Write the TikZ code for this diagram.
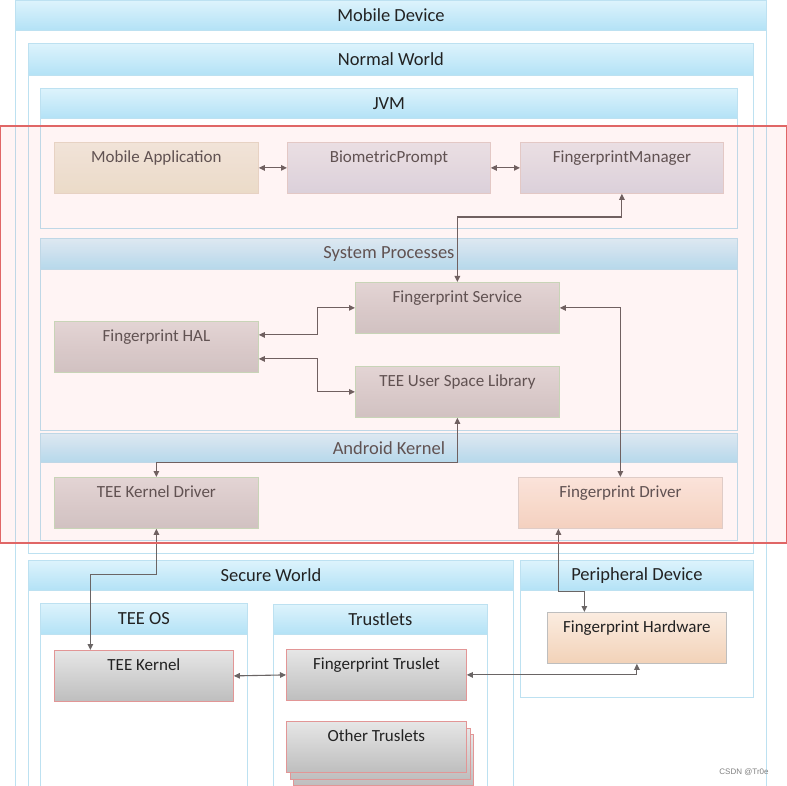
\documentclass[tikz,border=0pt]{standalone}
\usepackage{fontspec}
\setmainfont{Carlito}
\newfontfamily\wmfont{Liberation Sans}
\usetikzlibrary{arrows.meta}

\definecolor{hdrtop}{HTML}{DDF3FC}
\definecolor{hdrbot}{HTML}{B3E2F6}
\definecolor{frame}{HTML}{BDE1F1}
\definecolor{wire}{HTML}{6A6565}
\definecolor{nwtext}{HTML}{5A5656}
\definecolor{swtext}{HTML}{222222}
\definecolor{overlay}{HTML}{E06666}
\definecolor{appline}{HTML}{E6DCCC}
\definecolor{apptop}{HTML}{F1EEE2}
\definecolor{appbot}{HTML}{EBE5D2}
\definecolor{apiline}{HTML}{E2D2CE}
\definecolor{apitop}{HTML}{EAE9EE}
\definecolor{apibot}{HTML}{DADAE4}
\definecolor{sysline}{HTML}{C6DEC0}
\definecolor{systop}{HTML}{E2DEDE}
\definecolor{sysbot}{HTML}{D0CACA}
\definecolor{drvline}{HTML}{DED6D0}
\definecolor{drvtop}{HTML}{FBEEE4}
\definecolor{drvbot}{HTML}{F4DAC8}
\definecolor{tzline}{HTML}{E29696}
\definecolor{tztop}{HTML}{E6E6E6}
\definecolor{tzbot}{HTML}{BEBEBE}
\definecolor{hwline}{HTML}{BEBEBE}
\definecolor{hwtop}{HTML}{FBECE0}
\definecolor{hwbot}{HTML}{F2D2B8}

\tikzset{
	panel/.style={draw=frame, line width=1.2pt, fill=white, anchor=north west, inner sep=0pt},
	hdr/.style={draw=frame, line width=0.8pt, top color=hdrtop, bottom color=hdrbot,
		anchor=north west, inner sep=0pt, minimum height=30pt, text=swtext,
		font=\fontsize{18.5}{19}\selectfont},
	box/.style={anchor=north west, inner sep=0pt, minimum width=204pt, minimum height=51pt,
		line width=0.8pt, text height=20pt, text depth=31pt, text=nwtext,
		font=\fontsize{17}{17}\selectfont},
	appbox/.style={box, draw=appline, top color=apptop, bottom color=appbot},
	apibox/.style={box, draw=apiline, top color=apitop, bottom color=apibot},
	sysbox/.style={box, draw=sysline, top color=systop, bottom color=sysbot},
	drvbox/.style={box, draw=drvline, top color=drvtop, bottom color=drvbot},
	tzbox/.style={box, minimum width=180pt, minimum height=50pt, text=swtext,
		draw=tzline, top color=tztop, bottom color=tzbot},
	hwbox/.style={tzbox, draw=hwline, top color=hwtop, bottom color=hwbot},
	conn/.style={draw=wire, line width=1.1pt, {Triangle[length=6pt,width=5.5pt]}-{Triangle[length=6pt,width=5.5pt]}}
}

\begin{document}
\begin{tikzpicture}[x=1pt, y=-1pt]
	\clip (0,0) rectangle (787,786);
	\fill [white] (0,0) rectangle (787,786);
	% containers
	\node [panel, minimum width=751pt, minimum height=820pt] (mobile) at (15,0) {};
	\node [hdr, minimum width=751pt] (mobilehdr) at (15,0) {Mobile Device};
	\node [panel, minimum width=725pt, minimum height=510pt] (normal) at (28,43) {};
	\node [hdr, minimum width=725pt, minimum height=32pt] (normalhdr) at (28,43) {Normal World};
	\node [panel, minimum width=697pt, minimum height=140pt] (jvm) at (40,88) {};
	\node [hdr, minimum width=697pt] (jvmhdr) at (40,88) {JVM};
	\node [panel, minimum width=697pt, minimum height=192pt] (sysproc) at (40,238) {};
	\node [hdr, minimum width=697pt, minimum height=31pt, text=nwtext] (sysprochdr) at (40,238) {System Processes};
	\node [panel, minimum width=697pt, minimum height=107pt] (kernel) at (40,433) {};
	\node [hdr, minimum width=697pt, minimum height=29pt, text=nwtext] (kernelhdr) at (40,433) {Android Kernel};
	\node [panel, minimum width=485pt, minimum height=260pt] (secure) at (28,560) {};
	\node [hdr, minimum width=485pt] (securehdr) at (28,560) {Secure World};
	\node [panel, minimum width=233pt, minimum height=137pt] (periph) at (520,560) {};
	\node [hdr, minimum width=233pt] (periphhdr) at (520,560) {Peripheral Device};
	\node [panel, minimum width=207pt, minimum height=220pt] (teeos) at (40,603) {};
	\node [hdr, minimum width=207pt, minimum height=31pt] (teeoshdr) at (40,603) {TEE OS};
	\node [panel, minimum width=214pt, minimum height=220pt] (trustlets) at (273,604) {};
	\node [hdr, minimum width=214pt] (trustletshdr) at (273,604) {Trustlets};

	% normal world components
	\node [appbox] (mobapp) at (54,142) {Mobile Application};
	\node [apibox, minimum width=203pt] (bioprompt) at (287,142) {BiometricPrompt};
	\node [apibox, minimum width=203pt] (fpm) at (520,142) {FingerprintManager};
	\node [sysbox] (fpservice) at (355,282) {Fingerprint Service};
	\node [sysbox] (hal) at (54,321) {Fingerprint HAL};
	\node [sysbox] (usrlib) at (355,366) {TEE User Space Library};
	\node [sysbox, minimum height=50pt] (kdriver) at (54,477) {TEE Kernel Driver};
	\node [drvbox, minimum height=50pt] (fpdriver) at (518,477) {Fingerprint Driver};

	% secure world and hardware
	\node [tzbox, minimum width=179pt] (teekernel) at (54,650) {TEE Kernel};
	\node [tzbox] (fptruslet) at (286,649) {Fingerprint Truslet};
	\node [tzbox] (othersc) at (293,734) {};
	\node [tzbox] (othersb) at (290,728) {};
	\node [tzbox] (others) at (286,721) {Other Truslets};
	\node [hwbox, minimum width=179pt] (fphw) at (547,612) {Fingerprint Hardware};

	% connectors
	\draw [conn] (mobapp.east) -- (bioprompt.west);
	\draw [conn] (bioprompt.east) -- (fpm.west);
	\draw [conn] (fpservice.north) -- ++(0,-65) -| (fpm.south);
	\draw [conn] ([yshift=12pt]hal.east) -- ++(59,0) |- (fpservice.west);
	\draw [conn] ([yshift=-12pt]hal.east) -- ++(59,0) |- (usrlib.west);
	\draw [conn] (usrlib.south) -- ++(0,45) -| (kdriver.north);
	\draw [conn] (fpservice.east) -| (fpdriver.north);
	\coordinate (tkentry) at ([xshift=-53.5pt]teekernel.north);
	\draw [conn] (kdriver.south) -- ++(0,46) -| (tkentry);
	\coordinate (fpdexit) at ([xshift=-62pt]fpdriver.south);
	\coordinate (hwentry) at ([xshift=-52.5pt]fphw.north);
	\draw [conn] (fpdexit) -- ++(0,63) -| (hwentry);
	\draw [conn] (teekernel.east) -- (fptruslet.west);
	\draw [conn] (fptruslet.east) -| (fphw.south);

	% highlight
	\draw [draw=overlay, line width=1.2pt, fill=red, fill opacity=0.045] (0,126) rectangle (787,543);

	\node [text=black!50, font=\wmfont\fontsize{8}{8}\selectfont] (mark) at (744,772) {CSDN @Tr0e};
\end{tikzpicture}
\end{document}
